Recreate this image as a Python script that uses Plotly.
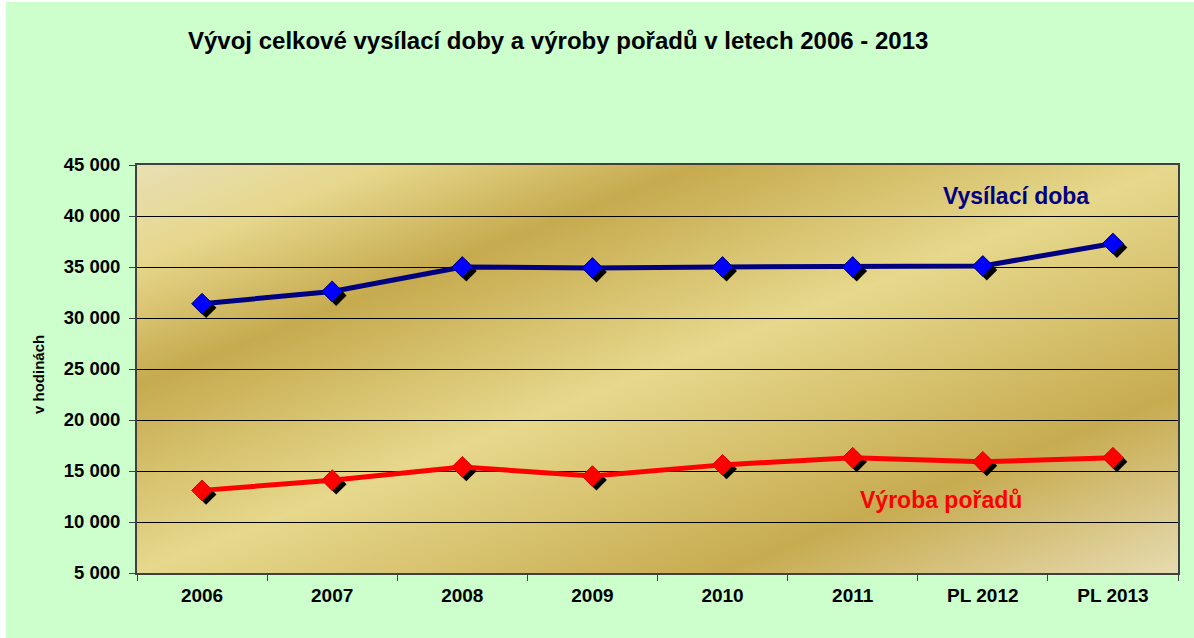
import base64
import plotly.graph_objects as go

# ---- data ----
years = ["2006", "2007", "2008", "2009", "2010", "2011", "PL 2012", "PL 2013"]
vysilaci_doba = [31400, 32600, 35000, 34900, 35000, 35000, 35100, 37300]
vyroba_poradu = [13100, 14100, 15400, 14500, 15600, 16300, 15900, 16300]
y_ticks = [5000, 10000, 15000, 20000, 25000, 30000, 35000, 40000, 45000]

title = "Vývoj celkové vysílací doby a výroby pořadů v letech 2006 - 2013"
y_title = "v hodinách"
name_vys = "Vysílací doba"
name_vyr = "Výroba pořadů"

# page offset of the figure (white strip left/top as in the reference)
OX, OY = 6, 2
W, H = 1194 - OX, 638 - OY
ML, MR, MT, MB = 137 - OX, 16, 165 - OY, 65
PW, PH = W - ML - MR, H - MT - MB
YR = [5000, 45000]
XR = [-0.5, len(years) - 0.5]


def px(xs):  # screen x -> paper x
    return (xs - OX - ML) / PW


def py(ys):  # screen y -> paper y
    return (MT + PH - (ys - OY)) / PH


# shadow offset in pixels -> axis range shift
SH = 4
dx = SH * (XR[1] - XR[0]) / PW
dy = SH * (YR[1] - YR[0]) / PH

FONT = "Liberation Sans, Arial, sans-serif"

# gradient background as svg
svg = (
    f"<svg xmlns='http://www.w3.org/2000/svg' width='{PW}' height='{PH}' viewBox='0 0 {PW} {PH}' preserveAspectRatio='none'>"
    "<defs><linearGradient id='g' x1='0' y1='0' x2='1' y2='1'>"
    "<stop offset='0' stop-color='#E8DFB4'/>"
    "<stop offset='0.12' stop-color='#E6D78C'/>"
    "<stop offset='0.27' stop-color='#C6AA4E'/>"
    "<stop offset='0.5' stop-color='#E6D88C'/>"
    "<stop offset='0.78' stop-color='#C7AB50'/>"
    "<stop offset='1' stop-color='#E6DBB0'/>"
    "</linearGradient></defs>"
    f"<rect x='0' y='0' width='{PW}' height='{PH}' fill='url(#g)'/></svg>"
)
src = "data:image/svg+xml;base64," + base64.b64encode(svg.encode()).decode()

fig = go.Figure()

# helper (invisible) trace so the gridded axes get their categories
fig.add_trace(go.Scatter(x=years, y=vysilaci_doba, mode="lines", opacity=0,
                         hoverinfo="skip", showlegend=False, xaxis="x", yaxis="y"))

MS = 16
# shadows
for vals in (vysilaci_doba, vyroba_poradu):
    fig.add_trace(go.Scatter(x=years, y=vals, mode="markers",
                             marker=dict(symbol="diamond", size=MS, color="black"),
                             hoverinfo="skip", showlegend=False, xaxis="x2", yaxis="y2",
                             cliponaxis=False))

# main series
fig.add_trace(go.Scatter(x=years, y=vysilaci_doba, mode="lines+markers", name=name_vys,
                         line=dict(color="#000080", width=5),
                         marker=dict(symbol="diamond", size=MS, color="#0000FF",
                                     line=dict(color="#000060", width=1)),
                         xaxis="x3", yaxis="y3", cliponaxis=False, showlegend=False))
fig.add_trace(go.Scatter(x=years, y=vyroba_poradu, mode="lines+markers", name=name_vyr,
                         line=dict(color="#FF0000", width=5),
                         marker=dict(symbol="diamond", size=MS, color="#FF0000",
                                     line=dict(color="#E00000", width=1)),
                         xaxis="x3", yaxis="y3", cliponaxis=False, showlegend=False))

hidden = dict(visible=False, showgrid=False, zeroline=False)

fig.update_layout(
    width=W, height=H,
    margin=dict(l=ML, r=MR, t=MT, b=MB, pad=0),
    paper_bgcolor="#CCFFCC",
    plot_bgcolor="rgba(0,0,0,0)",
    separators=". ",
    showlegend=False,
    title=dict(text=title, x=(188 - OX) / W, xanchor="left", xref="container",
               y=1 - (41 - OY) / H, yanchor="middle", yref="container",
               font=dict(family=FONT, size=24, color="black", weight="bold")),
    xaxis=dict(type="category", categoryorder="array", categoryarray=years,
               range=XR, showgrid=False, zeroline=False,
               showline=True, linecolor="#404040", linewidth=2, mirror=True,
               ticks="outside", tickson="boundaries", ticklen=6, tickcolor="#404040",
               tickwidth=1, tickfont=dict(family=FONT, size=19, color="black", weight="bold"),
               ticklabelstandoff=4),
    yaxis=dict(range=YR, tickvals=y_ticks, tickformat=",d",
               showgrid=True, gridcolor="black", gridwidth=1, zeroline=False,
               showline=True, linecolor="#404040", linewidth=2, mirror=True,
               ticks="outside", ticklen=6, tickcolor="#404040", tickwidth=1,
               tickfont=dict(family=FONT, size=18.5, color="black", weight="bold"),
               ticklabelstandoff=5),
    xaxis2=dict(type="category", categoryorder="array", categoryarray=years,
                range=[XR[0] - dx, XR[1] - dx], anchor="y2", **hidden),
    yaxis2=dict(range=[YR[0] + dy, YR[1] + dy], anchor="x2", **hidden),
    xaxis3=dict(type="category", categoryorder="array", categoryarray=years,
                range=XR, anchor="y3", **hidden),
    yaxis3=dict(range=YR, anchor="x3", **hidden),
    images=[dict(source=src, xref="paper", yref="paper", x=0, y=1, sizex=1, sizey=1,
                 xanchor="left", yanchor="top", sizing="stretch", layer="below")],
    annotations=[
        dict(text=y_title, xref="paper", yref="paper", x=px(38), y=py(375),
             textangle=-90, showarrow=False, xanchor="center", yanchor="middle",
             font=dict(family=FONT, size=15, color="black", weight="bold")),
        dict(text=name_vys, xref="paper", yref="paper", x=px(1016), y=py(196),
             showarrow=False, xanchor="center", yanchor="middle",
             font=dict(family=FONT, size=23, color="#000080", weight="bold")),
        dict(text=name_vyr, xref="paper", yref="paper", x=px(941), y=py(500),
             showarrow=False, xanchor="center", yanchor="middle",
             font=dict(family=FONT, size=23, color="#FF0000", weight="bold")),
    ],
)

fig.write_html(
    "out.html",
    post_script=f"document.body.style.margin='{OY}px 0 0 {OX}px';"
                "document.body.style.overflow='hidden';",
)
